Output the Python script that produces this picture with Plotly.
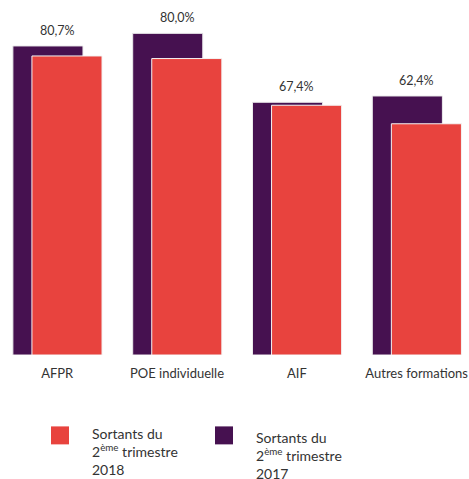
import plotly.graph_objects as go

categories = ["AFPR", "POE individuelle", "AIF", "Autres formations"]
values_2017 = [83.4, 86.8, 68.2, 69.9]
values_2018 = [80.7, 80.0, 67.4, 62.4]
value_labels = ["80,7%", "80,0%", "67,4%", "62,4%"]
name_2018 = "Sortants du<br>2<sup>ème</sup> trimestre<br>2018"
name_2017 = "Sortants du<br>2<sup>ème</sup> trimestre<br>2017"

PURPLE = "#461150"
RED = "#E8433E"
TXT = "#333333"
FONT = "Lato"
W, H = 469, 479
PLOT_BOTTOM = 355.5  # px from top

fig = go.Figure()
fig.add_trace(go.Bar(x=categories, y=values_2017, name="2017",
                     marker=dict(color=PURPLE, line=dict(color="#ececec", width=1)),
                     width=0.585, offset=-0.370, showlegend=False, hoverinfo="skip"))
fig.add_trace(go.Bar(x=categories, y=values_2018, name="2018",
                     marker=dict(color=RED, line=dict(color="#f4f4f4", width=1)),
                     width=0.585, offset=-0.211, showlegend=False, hoverinfo="skip"))

for c, a, b, t in zip(categories, values_2017, values_2018, value_labels):
    fig.add_annotation(x=c, y=max(a, b), text=t, showarrow=False,
                       yanchor="bottom", yshift=6,
                       font=dict(family=FONT, size=12.5, color=TXT))

def px_x(p):
    return p / W

def px_y(p):
    return (PLOT_BOTTOM - p) / PLOT_BOTTOM

# custom legend
legend_items = [(51, 427, 90, 424, RED, name_2018), (215, 427, 254, 428, PURPLE, name_2017)]
for sx, sy, tx, ty, col, txt in legend_items:
    fig.add_shape(type="rect", xref="paper", yref="paper",
                  x0=px_x(sx), x1=px_x(sx + 18), y0=px_y(sy), y1=px_y(sy + 18),
                  fillcolor=col, line=dict(width=0))
    fig.add_annotation(xref="paper", yref="paper", x=px_x(tx), y=px_y(ty),
                       xanchor="left", yanchor="top", align="left",
                       text=txt, showarrow=False,
                       font=dict(family=FONT, size=14, color=TXT))

fig.update_layout(
    width=W, height=H,
    margin=dict(l=0, r=0, t=0, b=H - PLOT_BOTTOM),
    barmode="overlay",
    plot_bgcolor="white", paper_bgcolor="white",
    showlegend=False,
    xaxis=dict(range=[-0.4775, 3.437], showgrid=False, zeroline=False,
               showline=False, ticks="", ticklabelstandoff=9,
               tickfont=dict(family=FONT, size=13, color=TXT)),
    yaxis=dict(range=[0, 95.8], visible=False),
)

fig.write_html("out.html", config={"displayModeBar": False},
               post_script="document.body.style.margin='0';document.body.style.overflow='hidden';")
